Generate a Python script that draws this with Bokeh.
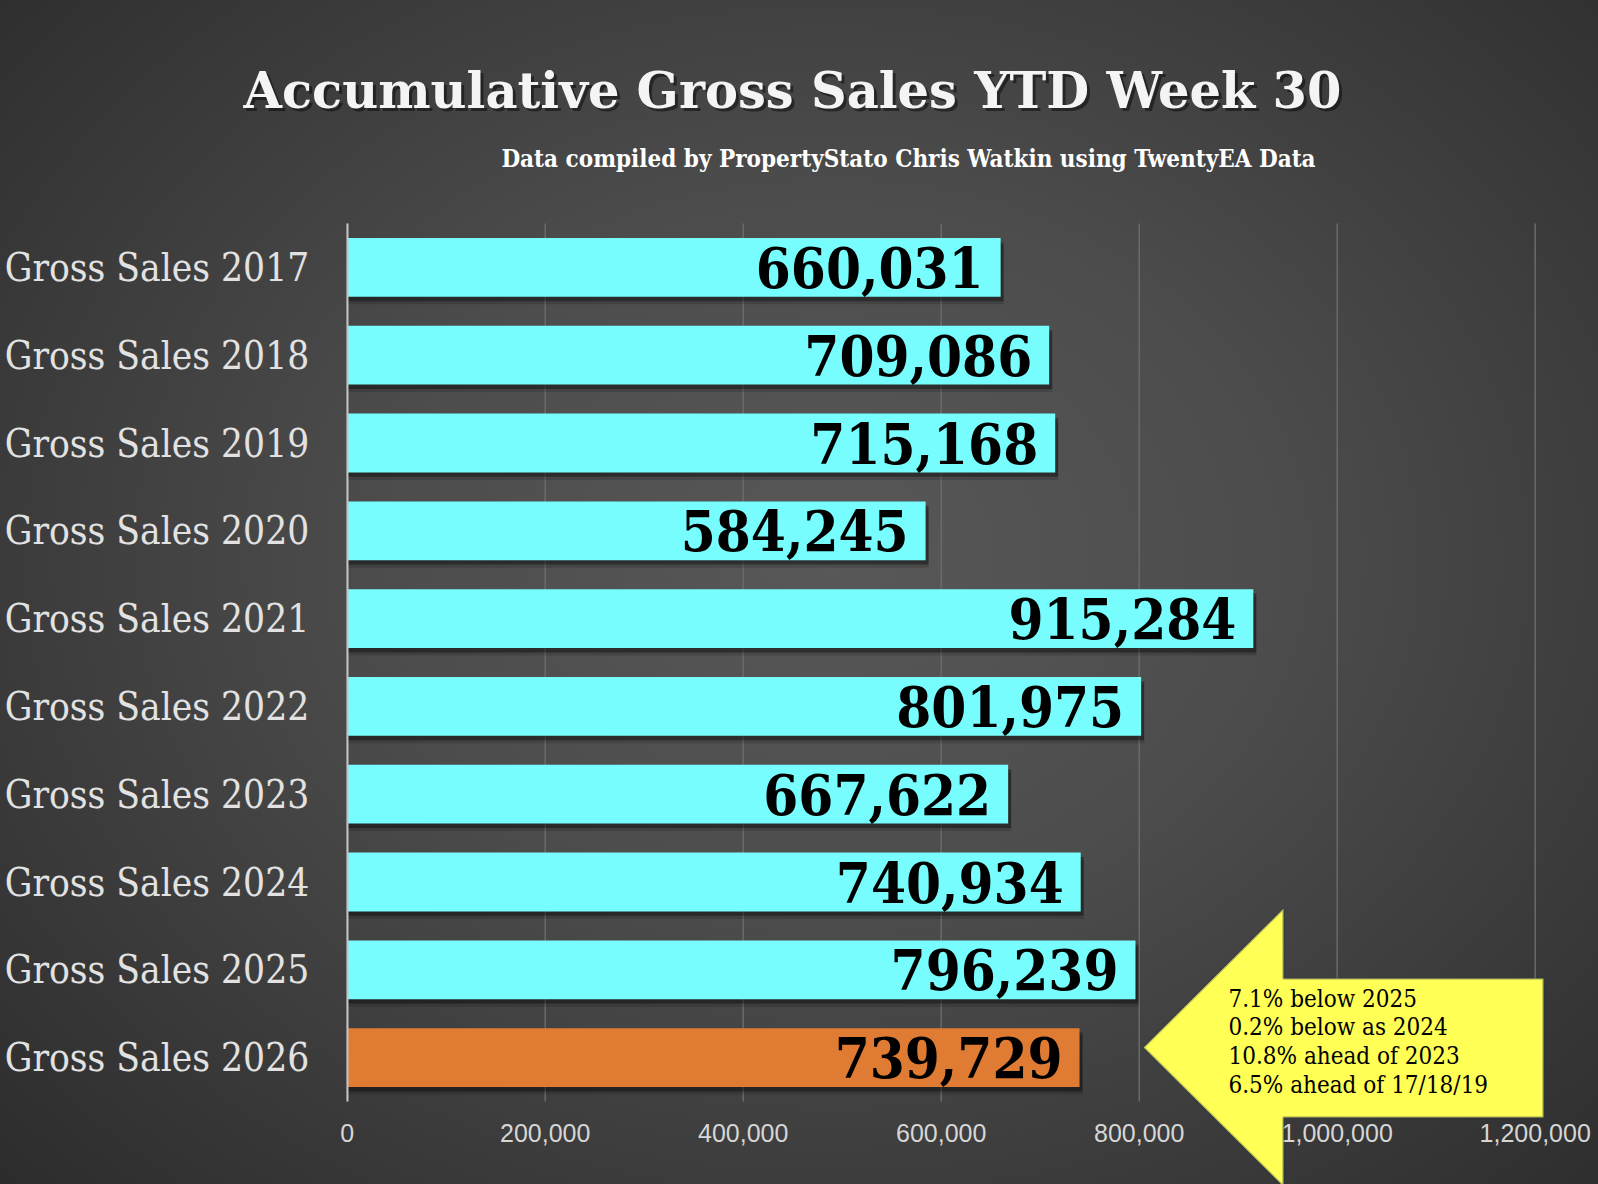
from bokeh.plotting import figure
from bokeh.models import (Range1d, Label, PolyAnnotation, NumeralTickFormatter,
                          FixedTicker, ColumnDataSource)
from bokeh.core.properties import value
from bokeh.embed import file_html
from bokeh.resources import INLINE

# ---------------- data ----------------
categories = ["Gross Sales 2017", "Gross Sales 2018", "Gross Sales 2019",
              "Gross Sales 2020", "Gross Sales 2021", "Gross Sales 2022",
              "Gross Sales 2023", "Gross Sales 2024", "Gross Sales 2025",
              "Gross Sales 2026"]
sales = [660031, 709086, 715168, 584245, 915284, 801975, 667622, 740934,
         796239, 739729]
bar_colors = ["#78FDFE"] * 9 + ["#E07B33"]
tick_values = [0, 200000, 400000, 600000, 800000, 1000000, 1200000]
title_text = "Accumulative Gross Sales YTD Week 30"
subtitle_text = "Data compiled by PropertyStato Chris Watkin using TwentyEA Data"
callout_lines = ["7.1% below 2025", "0.2% below  as 2024",
                 "10.8% ahead of 2023", "6.5% ahead of 17/18/19"]

SLAB = "'DejaVu Serif Condensed', 'DejaVu Serif', serif"
SLAB_WIDE = "'DejaVu Serif', serif"
SANS = "'Liberation Sans', Arial, sans-serif"

# ---------------- geometry (figure pixels) ----------------
W, H = 1598, 1184
X0_PX, X1_PX = 346.7, 1534.7      # pixel of x = 0 and x = XMAX
YT_PX, YB_PX = 223.0, 1101.0      # pixel of top / bottom of category band
XMAX = 1200000
NCAT = len(categories)
ux = XMAX / (X1_PX - X0_PX)       # data units per pixel
uy = NCAT / (YB_PX - YT_PX)

# category slots: first category at top
y_pos = [NCAT - i - 0.5 for i in range(NCAT)]

p = figure(width=W, height=H,
           x_range=Range1d(-X0_PX * ux, XMAX + (W - X1_PX) * ux),
           y_range=Range1d(-(H - YB_PX) * uy, NCAT + YT_PX * uy),
           output_backend="svg", toolbar_location=None,
           min_border=0, min_border_left=0, min_border_right=0,
           min_border_top=0, min_border_bottom=0)
p.outline_line_color = None
p.background_fill_color = None
p.border_fill_color = None
p.styles = {"background": "radial-gradient(ellipse 75% 80% at 52% 47%, #585858 0%, #4c4c4c 38%, #2a2a2a 100%)"}
p.xgrid.visible = False
p.ygrid.visible = False

# y axis (categories) drawn at x = 0
p.yaxis.fixed_location = 0
p.yaxis.bounds = (0, NCAT)
p.yaxis.ticker = FixedTicker(ticks=y_pos)
p.yaxis.major_label_overrides = {y: c for y, c in zip(y_pos, categories)}
p.yaxis.major_label_text_font = SLAB
p.yaxis.major_label_text_font_size = "38.5px"
p.yaxis.major_label_text_color = "#e2e2e2"
p.yaxis.major_tick_line_color = None
p.yaxis.minor_tick_line_color = None
p.yaxis.axis_line_color = "#c4c4c4"
p.yaxis.axis_line_width = 2
p.yaxis.major_label_standoff = 32

# x axis drawn at the bottom of the category band
p.xaxis.fixed_location = 0
p.xaxis.ticker = FixedTicker(ticks=tick_values)
p.xaxis.formatter = NumeralTickFormatter(format="0,0")
p.xaxis.major_label_text_font = SANS
p.xaxis.major_label_text_font_size = "25px"
p.xaxis.major_label_text_color = "#d6d6d6"
p.xaxis.axis_line_color = None
p.xaxis.major_tick_line_color = None
p.xaxis.minor_tick_line_color = None
p.xaxis.major_label_standoff = 16

# vertical grid lines over the category band
p.segment(x0=tick_values, y0=[0] * len(tick_values), x1=tick_values,
          y1=[NCAT] * len(tick_values), line_color="#6a6a6a", line_width=1.5,
          level="underlay")

# bars
labels = [f"{v:,}" for v in sales]
src = ColumnDataSource(dict(y=y_pos, sales=sales, color=bar_colors, label=labels,
                            y_sh1=[y - 0.05 for y in y_pos],
                            y_sh2=[y - 0.085 for y in y_pos],
                            shadow=[v + 3000 for v in sales]))
p.hbar(y="y_sh2", left=0, right="shadow", height=0.67,
       fill_color="black", fill_alpha=0.15, line_color=None, source=src)
p.hbar(y="y_sh1", left=0, right="shadow", height=0.67,
       fill_color="black", fill_alpha=0.35, line_color=None, source=src)
p.hbar(y="y", left=0, right="sales", height=0.67, fill_color="color",
       line_color=None, source=src)
p.text(x="sales", y="y", text="label", source=src, x_offset=-17, y_offset=0,
       text_align="right", text_baseline="middle",
       text_font=value(SLAB), text_font_size="56px", text_font_style="bold",
       text_color="black")


# helpers converting picture pixels to data coordinates
def xd(px):
    return (px - X0_PX) * ux


def yd(py):
    return (YB_PX - py) * uy


# title + subtitle (y given slightly above the wanted baseline)
p.add_layout(Label(x=xd(795), y=yd(93), text=title_text, text_align="center",
                   text_baseline="alphabetic", text_font=SLAB_WIDE, text_font_size="49.5px",
                   text_font_style="bold", text_color="black", text_alpha=0.45))
p.add_layout(Label(x=xd(792), y=yd(90), text=title_text, text_align="center",
                   text_baseline="alphabetic", text_font=SLAB_WIDE, text_font_size="49.5px",
                   text_font_style="bold", text_color="#f4f4f4"))
p.add_layout(Label(x=xd(908), y=yd(158), text=subtitle_text, text_align="center",
                   text_baseline="alphabetic", text_font=SLAB, text_font_size="24px",
                   text_font_style="bold", text_color="#ffffff"))

# callout arrow
arrow_px = [(1143, 1047), (1283, 908), (1283, 978), (1543, 978), (1543, 1117),
            (1283, 1117), (1283, 1186)]
p.add_layout(PolyAnnotation(xs=[xd(a) for a, b in arrow_px], ys=[yd(b) for a, b in arrow_px],
                            fill_color="#FFFF55", fill_alpha=1.0,
                            line_color="#1F2D4D", line_width=2.5))
for i, line in enumerate(callout_lines):
    p.add_layout(Label(x=xd(1228), y=yd(998 + i * 28.7), text=line,
                       text_align="left", text_baseline="alphabetic",
                       text_font=SLAB, text_font_size="24px", text_color="black"))

open("out.html", "w").write(file_html(p, INLINE))
